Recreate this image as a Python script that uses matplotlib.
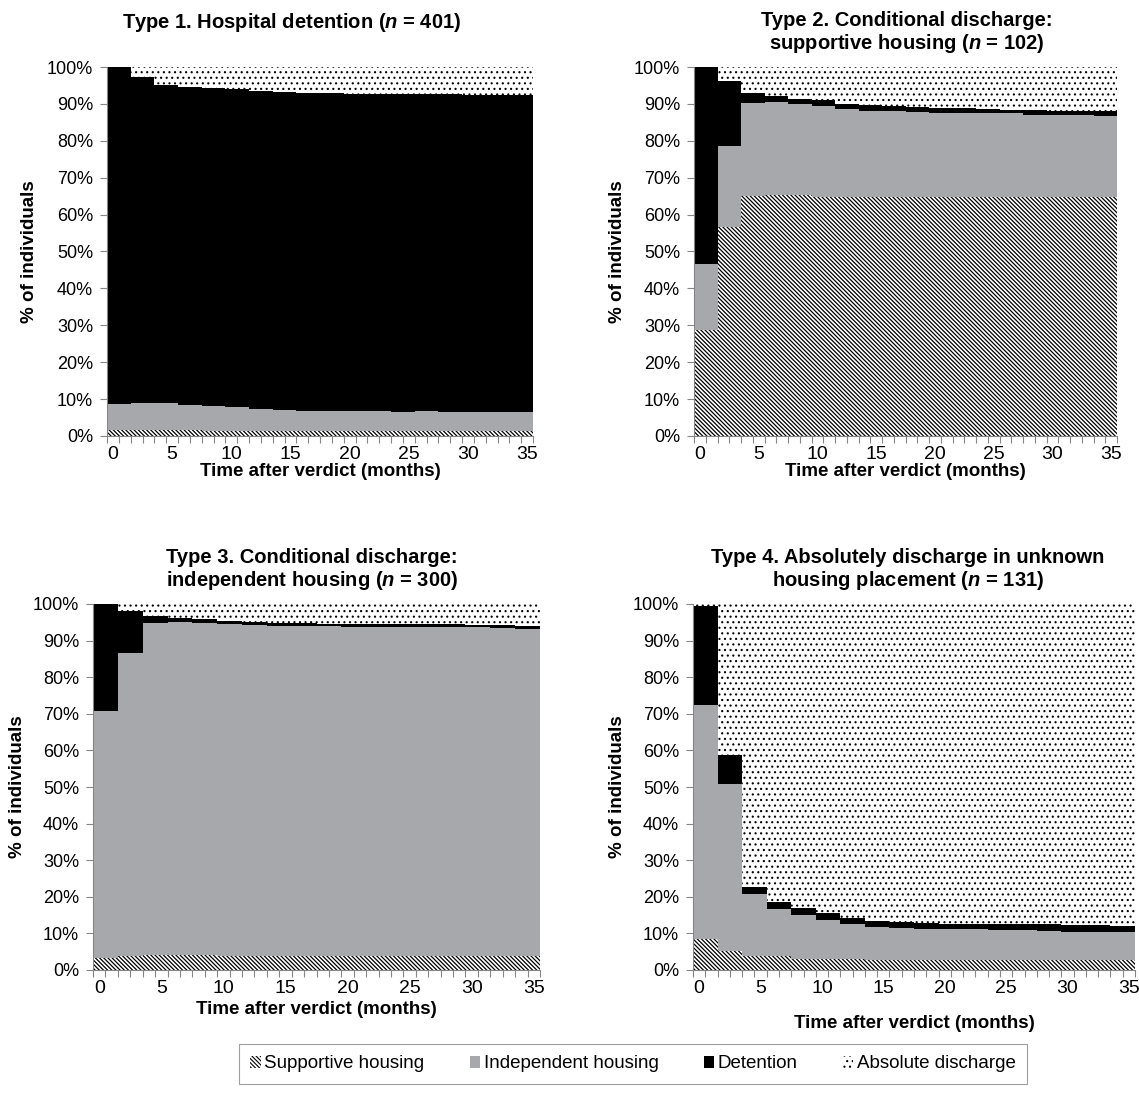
import numpy as np
import matplotlib
matplotlib.use('Agg')
import matplotlib.pyplot as plt
from matplotlib.patches import Patch

plt.rcParams['font.family'] = ['Liberation Sans', 'DejaVu Sans']
plt.rcParams['mathtext.fontset'] = 'custom'
plt.rcParams['mathtext.rm'] = 'Liberation Sans'
plt.rcParams['mathtext.it'] = 'Liberation Sans:italic'
plt.rcParams['mathtext.bf'] = 'Liberation Sans:bold'
plt.rcParams['mathtext.bfit'] = 'Liberation Sans:italic:bold'

# bar start month (each bar covers two months)
months = np.arange(0, 36, 2)
xticks = [0, 5, 10, 15, 20, 25, 30, 35]
yticks = list(range(0, 101, 10))
states = ['Supportive housing', 'Independent housing', 'Detention', 'Absolute discharge']

# shares (%) of each state
t1_supp = [1.6, 1.6, 1.6, 1.6, 1.4, 1.4, 1.4, 1.4, 1.4, 1.4, 1.4, 1.4, 1.4, 1.4, 1.4, 1.4, 1.4, 1.4]
t1_indep = [7.2, 7.4, 7.4, 6.9, 6.7, 6.4, 5.9, 5.6, 5.5, 5.3, 5.3, 5.3, 5.2, 5.3, 5.2, 5.1, 5.1, 5.1]
t1_det = [91.2, 88.3, 86.2, 86.1, 86.2, 86.3, 86.3, 86.2, 86.1, 86.2, 86.1, 86.0, 86.1, 85.9, 86.0, 85.9, 85.9, 85.9]
t1_abs = [0.0, 2.7, 4.8, 5.4, 5.7, 5.9, 6.4, 6.8, 7.0, 7.1, 7.2, 7.3, 7.3, 7.4, 7.4, 7.6, 7.6, 7.6]

t2_supp = [28.6, 56.7, 65.0, 65.3, 65.2, 64.8, 64.8, 64.8, 64.7, 64.7, 64.7, 64.7, 64.7, 64.7, 64.7, 64.7, 64.7, 64.7]
t2_indep = [18.0, 21.8, 25.2, 25.2, 24.8, 24.6, 23.7, 23.4, 23.3, 23.2, 22.9, 22.9, 22.7, 22.7, 22.4, 22.2, 22.2, 21.9]
t2_det = [53.4, 17.6, 2.8, 1.6, 1.4, 1.6, 1.5, 1.4, 1.3, 1.2, 1.3, 1.2, 1.2, 1.0, 1.2, 1.3, 1.3, 1.5]
t2_abs = [0.0, 3.9, 7.0, 7.9, 8.6, 9.0, 10.0, 10.4, 10.7, 10.9, 11.1, 11.2, 11.4, 11.6, 11.7, 11.8, 11.8, 11.9]

t3_supp = [3.2, 3.7, 4.1, 4.2, 4.0, 3.9, 3.9, 3.9, 3.9, 3.9, 3.9, 3.9, 3.9, 3.9, 3.9, 3.9, 3.9, 3.9]
t3_indep = [67.7, 83.0, 90.7, 91.0, 90.8, 90.5, 90.3, 90.1, 90.0, 90.0, 89.9, 89.8, 89.8, 89.7, 89.7, 89.7, 89.6, 89.4]
t3_det = [29.1, 11.3, 1.8, 0.9, 1.1, 1.0, 0.8, 0.8, 0.8, 0.7, 0.7, 0.7, 0.7, 0.8, 0.8, 0.7, 0.7, 0.8]
t3_abs = [0.0, 2.0, 3.4, 3.9, 4.1, 4.6, 5.0, 5.2, 5.3, 5.4, 5.5, 5.6, 5.6, 5.6, 5.6, 5.7, 5.8, 5.9]

t4_supp = [8.5, 5.3, 3.8, 3.8, 3.1, 3.1, 3.1, 2.8, 2.8, 2.8, 2.8, 2.8, 2.8, 2.8, 2.8, 2.8, 2.8, 2.8]
t4_indep = [63.9, 45.4, 17.0, 12.9, 12.0, 10.6, 9.5, 8.9, 8.7, 8.5, 8.3, 8.3, 8.0, 8.0, 7.8, 7.7, 7.7, 7.7]
t4_det = [27.1, 8.1, 2.0, 1.8, 1.8, 2.0, 1.6, 1.7, 1.7, 1.6, 1.6, 1.6, 1.8, 1.8, 1.9, 1.8, 1.7, 1.5]
t4_abs = [0.5, 41.2, 77.2, 81.5, 83.1, 84.3, 85.8, 86.6, 86.8, 87.1, 87.3, 87.3, 87.4, 87.4, 87.5, 87.7, 87.8, 88.0]

titles = [r'Type 1. Hospital detention ($\mathbfit{n}$ = 401)',
          'Type 2. Conditional discharge:\n' + r'supportive housing ($\mathbfit{n}$ = 102)',
          'Type 3. Conditional discharge:\n' + r'independent housing ($\mathbfit{n}$ = 300)',
          'Type 4. Absolutely discharge in unknown\n' + r'housing placement ($\mathbfit{n}$ = 131)']

panels = [(t1_supp, t1_indep, t1_det, t1_abs),
          (t2_supp, t2_indep, t2_det, t2_abs),
          (t3_supp, t3_indep, t3_det, t3_abs),
          (t4_supp, t4_indep, t4_det, t4_abs)]

styles = [dict(facecolor='white', hatch='\\' * 8),
          dict(facecolor='#a7a8ac', hatch=None),
          dict(facecolor='black', hatch=None),
          dict(facecolor='white', hatch='...')]
hatch_lw = [0.9, 0.5, 0.5, 0.8]

W, H = 1139, 1105
fig = plt.figure(figsize=(W / 100, H / 100), dpi=100)

# axes boxes in pixels: left, right, top, bottom
boxes = [(107, 533, 67, 436), (694, 1117, 67, 436), (93, 540, 604, 970), (693, 1135, 604, 970)]
title_pos = [(292, 22), (907, 33), (312, 570), (908, 570)]
xlabel_y = [472, 472, 1010, 1023]
ylabel_x = [30, 617, 18, 617]

def fx(px):
    return px / W

def fy(py):
    return 1 - py / H

edges = np.append(months - 0.5, 35.5)
grey = '#868686'
for i, (vals, box) in enumerate(zip(panels, boxes)):
    l, r, t, b = box
    ax = fig.add_axes([fx(l), fy(b), fx(r - l), (b - t) / H])
    bottom = np.zeros(len(months))
    for v, st, hl in zip(vals, styles, hatch_lw):
        top = bottom + np.array(v)
        plt.rcParams['hatch.linewidth'] = hl
        ax.fill_between(edges, np.append(bottom, bottom[-1]), np.append(top, top[-1]),
                        step='post', edgecolor='black', linewidth=0, **st)
        bottom = top
    ax.set_xlim(-0.5, 35.5)
    ax.set_ylim(0, 100)
    ax.set_yticks(yticks)
    ax.set_yticklabels([f'{v}%' for v in yticks])
    ax.set_xticks(xticks)
    ax.set_xticks(np.arange(-0.5, 36, 1), minor=True)
    ax.tick_params(axis='x', which='major', length=0, pad=7, labelsize=14)
    ax.tick_params(axis='x', which='minor', length=5, color=grey, width=0.8)
    ax.tick_params(axis='y', length=5, color=grey, width=0.8, pad=5, labelsize=13)
    for s in ['top', 'right']:
        ax.spines[s].set_visible(False)
    for s in ['left', 'bottom']:
        ax.spines[s].set_color(grey)
        ax.spines[s].set_linewidth(0.8)
    ax.yaxis.grid(True, color='#bdbdbd', linewidth=0.8)
    ax.set_axisbelow(True)

    tx, ty = title_pos[i]
    fig.text(fx(tx), fy(ty), titles[i], ha='center', va='center', fontsize=14.5,
             fontweight='bold', linespacing=1.1)
    fig.text(fx((l + r) / 2), fy(xlabel_y[i]), 'Time after verdict (months)', ha='center',
             va='center', fontsize=13.5, fontweight='bold')
    fig.text(fx(ylabel_x[i]), fy((t + b) / 2), '% of individuals', ha='center', va='center',
             rotation=90, fontsize=13.5, fontweight='bold')

handles = []
for st, hl in zip(styles, hatch_lw):
    plt.rcParams['hatch.linewidth'] = hl
    handles.append(Patch(edgecolor='black', linewidth=0, **st))
leg = fig.legend(handles, states, loc='center', bbox_to_anchor=(fx(633), fy(1064)), ncol=4,
                 fontsize=13.5, frameon=True, fancybox=False, edgecolor=grey,
                 handlelength=0.55, handleheight=0.55, handletextpad=0.2, columnspacing=2.4,
                 borderpad=0.6)
leg.get_frame().set_linewidth(0.8)

fig.savefig('out.png', dpi=100)
